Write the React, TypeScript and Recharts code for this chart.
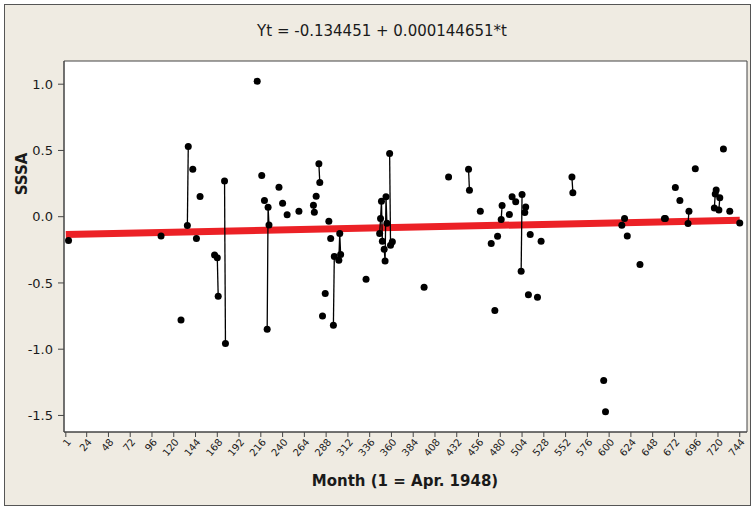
import { ComposedChart, XAxis, YAxis, Line, Scatter, ReferenceArea, Label } from "recharts";

// month index (1 = Apr. 1948) and seasonally adjusted value
const MONTHS = [
  4, 106, 128, 135, 136, 141, 145, 149, 165, 168, 169, 176, 177, 212, 217, 220, 223, 224, 225, 236, 240, 245, 258,
  274, 275, 277, 280, 281, 284, 287, 291, 293, 296, 297, 302, 303, 304, 332, 347, 348, 349, 350, 352, 353, 354, 355,
  358, 359, 361, 396, 423, 445, 446, 458, 470, 474, 477, 481, 482, 490, 493, 497, 503, 504, 507, 508, 511, 513, 521,
  525, 559, 560, 594, 596, 614, 617, 620, 634, 661, 662, 673, 678, 687, 688, 695, 716, 717, 718, 721, 722, 726, 733,
  744,
];
const SSSA = [
  -0.18, -0.145, -0.779, -0.066, 0.53, 0.358, -0.165, 0.152, -0.29, -0.31, -0.6, 0.27, -0.957, 1.023, 0.311, 0.122,
  -0.849, 0.072, -0.062, 0.223, 0.102, 0.014, 0.041, 0.087, 0.034, 0.155, 0.4, 0.258, -0.749, -0.58, -0.034, -0.165,
  -0.819, -0.3, -0.328, -0.127, -0.285, -0.472, -0.127, -0.014, 0.117, -0.185, -0.245, -0.334, 0.15, -0.05, 0.477,
  -0.215, -0.19, -0.532, 0.3, 0.358, 0.2, 0.041, -0.202, -0.708, -0.147, -0.022, 0.084, 0.016, 0.15, 0.112, -0.411,
  0.168, 0.032, 0.074, -0.59, -0.134, -0.608, -0.185, 0.3, 0.18, -1.236, -1.473, -0.064, -0.014, -0.145, -0.361,
  -0.014, -0.014, 0.22, 0.122, -0.051, 0.041, 0.361, 0.066, 0.172, 0.202, 0.051, 0.142, 0.51, 0.041, -0.047,
];

// fitted trend Yt = -0.134451 + 0.000144651*t, end points
const TREND_T = [1, 744];
const TREND_V = [-0.1343, -0.0268];

const X_TICKS = [
  1, 24, 48, 72, 96, 120, 144, 168, 192, 216, 240, 264, 288, 312, 336, 360, 384, 408, 432, 456, 480, 504, 528, 552,
  576, 600, 624, 648, 672, 696, 720, 744,
];
const Y_TICKS = [-1.5, -1, -0.5, 0, 0.5, 1];

const FONT = "'DejaVu Sans', Verdana, sans-serif";
const INK = "#1a1a1a";
const FRAME = "#444";

const points = MONTHS.map((t, i) => ({ t, v: SSSA[i] }));
const trend = TREND_T.map((t, i) => ({ t, v: TREND_V[i] }));

// consecutive months are joined by a line, gaps are not
const runs: { t: number; v: number }[][] = [];
points.forEach((p, i) => {
  if (i > 0 && p.t === points[i - 1].t + 1) runs[runs.length - 1].push(p);
  else runs.push([p]);
});

function XTick({ x, y, payload }: any) {
  return (
    <g transform={`translate(${x + 3},${y})`}>
      <text x={0} y={0} dy="0.35em" textAnchor="end" fontSize={10} fontFamily={FONT} fill={INK} transform="rotate(-50)">
        {payload.value}
      </text>
    </g>
  );
}

function Dot({ cx, cy }: any) {
  return <circle cx={cx} cy={cy} r={3.5} fill="#000" />;
}

export default function App() {
  return (
    <div style={{ position: "absolute", left: 0, top: 0, width: 752, height: 507, background: "#fff" }}>
      <div
        style={{
          position: "absolute",
          left: 4,
          top: 4,
          width: 745,
          height: 500,
          border: "1px solid #555",
          background: "#EFEBE2",
        }}
      />
      <div
        style={{
          position: "absolute",
          left: 382,
          top: 22,
          transform: "translateX(-50%)",
          whiteSpace: "nowrap",
          fontFamily: FONT,
          fontSize: 15,
          color: INK,
        }}
      >
        Yt = -0.134451 + 0.000144651*t
      </div>
      <div style={{ position: "absolute", left: 0, top: 0 }}>
        <ComposedChart width={752} height={507} margin={{ top: 61, right: 5, bottom: 0, left: 0 }}>
          <XAxis
            dataKey="t"
            type="number"
            domain={[-1, 752]}
            allowDataOverflow
            ticks={X_TICKS}
            interval={0}
            height={75}
            tickSize={5}
            tickMargin={3}
            tick={<XTick />}
            axisLine={{ stroke: FRAME }}
            tickLine={{ stroke: FRAME }}
          >
            <Label
              content={() => (
                <text x={405} y={486} textAnchor="middle" fontWeight="bold" fontSize={15} fontFamily={FONT} fill={INK}>
                  Month (1 = Apr. 1948)
                </text>
              )}
            />
          </XAxis>
          <YAxis
            dataKey="v"
            type="number"
            domain={[-1.625, 1.175]}
            allowDataOverflow
            ticks={Y_TICKS}
            tickFormatter={(v: number) => v.toFixed(1)}
            width={64}
            tickSize={6}
            tickMargin={5}
            tick={{ fontSize: 13, fill: INK, fontFamily: FONT }}
            axisLine={{ stroke: FRAME }}
            tickLine={{ stroke: FRAME }}
          >
            <Label
              content={() => (
                <text
                  x={27}
                  y={174}
                  transform="rotate(-90 27 174)"
                  textAnchor="middle"
                  fontWeight="bold"
                  fontSize={15}
                  fontFamily={FONT}
                  fill={INK}
                >
                  SSSA
                </text>
              )}
            />
          </YAxis>
          <ReferenceArea x1={-1} x2={752} y1={-1.625} y2={1.175} fill="#fff" fillOpacity={1} stroke={FRAME} />
          <Line
            data={trend}
            dataKey="v"
            stroke="#EC2126"
            strokeWidth={7}
            dot={false}
            activeDot={false}
            isAnimationActive={false}
          />
          {runs
            .filter((r) => r.length > 1)
            .map((r, i) => (
              <Line
                key={i}
                data={r}
                dataKey="v"
                stroke="#000"
                strokeWidth={1.3}
                dot={false}
                activeDot={false}
                isAnimationActive={false}
              />
            ))}
          <Scatter data={points} dataKey="v" shape={<Dot />} isAnimationActive={false} />
        </ComposedChart>
      </div>
    </div>
  );
}
